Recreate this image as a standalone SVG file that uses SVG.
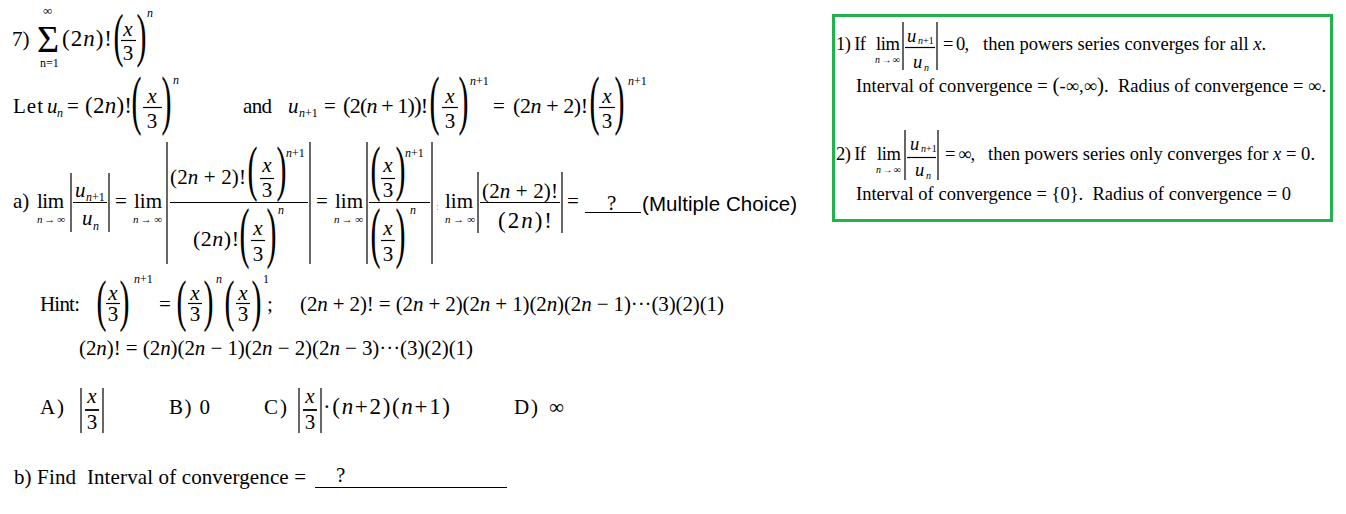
<svg xmlns="http://www.w3.org/2000/svg" width="1346" height="514" viewBox="0 0 1346 514">
<style>
text{font-family:"Liberation Serif","Times New Roman",serif;fill:#000;font-size:21px}
.i{font-style:italic}
.s{font-size:12px}
.xs{font-size:11px}
.bp{font-size:60px}
.f22{font-size:22px}
.f23{font-size:23px}
.c{text-anchor:middle}
.ln{stroke:#000;stroke-width:1.2;fill:none}
.sans{font-family:"Liberation Sans",Arial,sans-serif;font-size:20.5px}
.bx{font-size:18.5px}
.bs{font-size:10px}
.sig{font-size:38px}
.inf{font-size:13px}
.gr{fill:#999;font-size:10px}
</style>
<rect width="1346" height="514" fill="#fff"/>

<g id="problem">
<text x="12" y="46">7)</text>
<text x="37" y="52" class="sig" textLength="23">Σ</text>
<text x="43" y="15" class="inf">∞</text>
<text x="40" y="67" class="s">n=1</text>
<text x="62" y="46" class="f23" textLength="50">(2<tspan class="i">n</tspan>)!</text>
<text class="bp" transform="translate(115,66) scale(.5,1)" x="-2.9" y="-10.6">(</text>
<text class="bp" transform="translate(145,66) scale(.5,1)" x="-17.1" y="-10.6">)</text>
<text x="128" y="36" class="c i">x</text>
<line class="ln" x1="121" y1="40.5" x2="136" y2="40.5"/>
<text x="128" y="60" class="c">3</text>
<text x="147" y="17" class="s i">n</text>
</g>

<g id="let-line">
<text x="13" y="113" textLength="30">Let</text>
<text x="47" y="113" class="i">u</text>
<text x="57" y="117" class="s i">n</text>
<text x="67" y="113" textLength="14">=</text>
<text x="85" y="113" class="f23" textLength="47">(2<tspan class="i">n</tspan>)!</text>
<text class="bp" transform="translate(133,134) scale(.5,1.09)" x="-2.9" y="-10.6">(</text>
<text class="bp" transform="translate(170,134) scale(.5,1.09)" x="-17.1" y="-10.6">)</text>
<text x="152" y="103" class="c i">x</text>
<line class="ln" x1="143" y1="107.5" x2="162" y2="107.5"/>
<text x="152" y="128" class="c">3</text>
<text x="173" y="84" class="s i">n</text>

<text x="243" y="113" textLength="29">and</text>
<text x="288" y="113" class="i">u</text>
<text x="299" y="117" class="s"><tspan class="i">n</tspan>+1</text>
<text x="324" y="113" textLength="12">=</text>
<text x="343" y="113" class="f22" textLength="85"><tspan class="f23">(</tspan>2(<tspan class="i">n</tspan> + 1)<tspan class="f23">)</tspan>!</text>
<text class="bp" transform="translate(431,134) scale(.5,1.09)" x="-2.9" y="-10.6">(</text>
<text class="bp" transform="translate(467,134) scale(.5,1.09)" x="-17.1" y="-10.6">)</text>
<text x="450" y="103" class="c i">x</text>
<line class="ln" x1="442" y1="107.5" x2="458" y2="107.5"/>
<text x="450" y="128" class="c">3</text>
<text x="470" y="85" class="s"><tspan class="i">n</tspan>+1</text>
<text x="493" y="113" textLength="12">=</text>
<text x="513" y="113" class="f22" textLength="75">(2<tspan class="i">n</tspan> + 2)!</text>
<text class="bp" transform="translate(591,134) scale(.5,1.09)" x="-2.9" y="-10.6">(</text>
<text class="bp" transform="translate(623,134) scale(.5,1.09)" x="-17.1" y="-10.6">)</text>
<text x="607" y="103" class="c i">x</text>
<line class="ln" x1="599" y1="107.5" x2="615" y2="107.5"/>
<text x="607" y="128" class="c">3</text>
<text x="628" y="85" class="s"><tspan class="i">n</tspan>+1</text>
</g>

<g id="part-a">
<text x="13" y="208">a)</text>
<text x="37" y="208" textLength="27">lim</text>
<text x="37" y="223" class="xs i" textLength="28">n→∞</text>
<line class="ln" x1="71" y1="173" x2="71" y2="232"/>
<line class="ln" x1="109" y1="173" x2="109" y2="232"/>
<text x="75" y="197" class="i">u</text>
<text x="86" y="201" class="s"><tspan class="i">n</tspan>+1</text>
<line class="ln" x1="73" y1="202.5" x2="107" y2="202.5"/>
<text x="82" y="225" class="i">u</text>
<text x="93" y="230" class="s i">n</text>
<text x="115" y="208" textLength="16">=</text>
<text x="134" y="208" textLength="28">lim</text>
<text x="133" y="223" class="xs i" textLength="29">n→∞</text>

<line class="ln" x1="167" y1="142" x2="167" y2="264"/>
<line class="ln" x1="310" y1="142" x2="310" y2="264"/>
<text x="170" y="184" textLength="76">(2<tspan class="i">n</tspan> + 2)!</text>
<text class="bp" transform="translate(249,200) scale(.5,1.02)" x="-2.9" y="-10.6">(</text>
<text class="bp" transform="translate(285,200) scale(.5,1.02)" x="-17.1" y="-10.6">)</text>
<text x="267" y="172" class="c i">x</text>
<line class="ln" x1="260" y1="178.5" x2="274" y2="178.5"/>
<text x="267" y="197" class="c">3</text>
<text x="286" y="157" class="s"><tspan class="i">n</tspan>+1</text>
<line class="ln" x1="170" y1="202.5" x2="308" y2="202.5"/>
<text x="193" y="246" class="f22" textLength="46">(2<tspan class="i">n</tspan>)!</text>
<text class="bp" transform="translate(241,267) scale(.5,1.11)" x="-2.9" y="-10.6">(</text>
<text class="bp" transform="translate(275,267) scale(.5,1.11)" x="-17.1" y="-10.6">)</text>
<text x="258" y="235" class="c i">x</text>
<line class="ln" x1="251" y1="240.5" x2="265" y2="240.5"/>
<text x="258" y="261" class="c">3</text>
<text x="278" y="214" class="s i">n</text>

<text x="316" y="208" textLength="16">=</text>
<text x="335" y="208" textLength="28">lim</text>
<text x="334" y="223" class="xs i" textLength="29">n→∞</text>
<line class="ln" x1="367" y1="142" x2="367" y2="264"/>
<line class="ln" x1="432" y1="142" x2="432" y2="264"/>
<text class="bp" transform="translate(372,200) scale(.5,1.02)" x="-2.9" y="-10.6">(</text>
<text class="bp" transform="translate(404,200) scale(.5,1.02)" x="-17.1" y="-10.6">)</text>
<text x="388" y="172" class="c i">x</text>
<line class="ln" x1="381" y1="178.5" x2="395" y2="178.5"/>
<text x="388" y="197" class="c">3</text>
<text x="405" y="157" class="s"><tspan class="i">n</tspan>+1</text>
<line class="ln" x1="369" y1="202.5" x2="430" y2="202.5"/>
<text class="bp" transform="translate(372,267) scale(.5,1.11)" x="-2.9" y="-10.6">(</text>
<text class="bp" transform="translate(404,267) scale(.5,1.11)" x="-17.1" y="-10.6">)</text>
<text x="388" y="235" class="c i">x</text>
<line class="ln" x1="381" y1="240.5" x2="395" y2="240.5"/>
<text x="388" y="261" class="c">3</text>
<text x="410" y="214" class="s i">n</text>
<text x="436" y="210" class="gr">:</text>

<text x="445" y="208" textLength="28">lim</text>
<text x="445" y="223" class="xs i" textLength="30">n→∞</text>
<line class="ln" x1="478" y1="172" x2="478" y2="233"/>
<line class="ln" x1="562" y1="172" x2="562" y2="233"/>
<text x="482" y="198" textLength="76">(2<tspan class="i">n</tspan> + 2)!</text>
<line class="ln" x1="480" y1="202.5" x2="560" y2="202.5"/>
<text x="498" y="228" class="f23" textLength="54">(2<tspan class="i">n</tspan>)!</text>
<text x="567" y="208" textLength="13">=</text>
<line class="ln" x1="585" y1="212.5" x2="641" y2="212.5"/>
<text x="607" y="210">?</text>
<text x="642" y="211" class="sans" textLength="155">(Multiple Choice)</text>
</g>

<g id="hint">
<text x="40" y="311" textLength="40">Hint:</text>
<text class="bp" transform="translate(98,330) scale(.5,.94)" x="-2.9" y="-10.6">(</text>
<text class="bp" transform="translate(128,330) scale(.5,.94)" x="-17.1" y="-10.6">)</text>
<text x="113" y="300" class="c i">x</text>
<line class="ln" x1="106" y1="303.5" x2="120" y2="303.5"/>
<text x="113" y="321" class="c">3</text>
<text x="134" y="283" class="s"><tspan class="i">n</tspan>+1</text>
<text x="159" y="311" textLength="12">=</text>
<text class="bp" transform="translate(178,330) scale(.5,.94)" x="-2.9" y="-10.6">(</text>
<text class="bp" transform="translate(212,330) scale(.5,.94)" x="-17.1" y="-10.6">)</text>
<text x="195" y="300" class="c i">x</text>
<line class="ln" x1="188" y1="303.5" x2="202" y2="303.5"/>
<text x="195" y="321" class="c">3</text>
<text x="216" y="283" class="s i">n</text>
<text class="bp" transform="translate(226,330) scale(.5,.94)" x="-2.9" y="-10.6">(</text>
<text class="bp" transform="translate(260,330) scale(.5,.94)" x="-17.1" y="-10.6">)</text>
<text x="243" y="300" class="c i">x</text>
<line class="ln" x1="236" y1="303.5" x2="250" y2="303.5"/>
<text x="243" y="321" class="c">3</text>
<text x="263" y="283" class="s">1</text>
<text x="267" y="311">;</text>
<text x="300" y="311" textLength="424">(2<tspan class="i">n</tspan> + 2)! = (2<tspan class="i">n</tspan> + 2)(2<tspan class="i">n</tspan> + 1)(2<tspan class="i">n</tspan>)(2<tspan class="i">n</tspan> − 1)···(3)(2)(1)</text>
<text x="79" y="355" textLength="394">(2<tspan class="i">n</tspan>)! = (2<tspan class="i">n</tspan>)(2<tspan class="i">n</tspan> − 1)(2<tspan class="i">n</tspan> − 2)(2<tspan class="i">n</tspan> − 3)···(3)(2)(1)</text>
</g>

<g id="options">
<text x="40" y="414" textLength="24">A)</text>
<line class="ln" x1="81" y1="388" x2="81" y2="433"/>
<line class="ln" x1="103" y1="388" x2="103" y2="433"/>
<text x="92" y="403" class="c i">x</text>
<line class="ln" x1="85" y1="410" x2="99" y2="410" style="stroke-width:1.8"/>
<text x="92" y="429" class="c">3</text>
<text x="169" y="414" textLength="41">B) 0</text>
<text x="264" y="414" textLength="23">C)</text>
<line class="ln" x1="299" y1="388" x2="299" y2="433"/>
<line class="ln" x1="321" y1="388" x2="321" y2="433"/>
<text x="310" y="403" class="c i">x</text>
<line class="ln" x1="303" y1="410" x2="317" y2="410" style="stroke-width:1.8"/>
<text x="310" y="429" class="c">3</text>
<text x="323" y="414" class="f23" textLength="127">·(<tspan class="i">n</tspan>+2)(<tspan class="i">n</tspan>+1)</text>
<text x="514" y="414" textLength="24">D)</text>
<text x="549" y="414">∞</text>
</g>

<g id="part-b">
<text x="14" y="484" textLength="292">b) Find&#160; Interval of convergence =</text>
<line class="ln" x1="315" y1="487.5" x2="507" y2="487.5"/>
<text x="336" y="482">?</text>
</g>

<g id="rules-box">
<rect x="833.5" y="15.5" width="498" height="205" fill="none" stroke="#22b14c" stroke-width="3"/>
<text x="836" y="50" class="bx" textLength="30">1) If</text>
<text x="876" y="50" class="bx" textLength="24">lim</text>
<text x="875" y="63" class="bs i" textLength="25">n→∞</text>
<line class="ln" x1="903" y1="22" x2="903" y2="70"/>
<line class="ln" x1="937" y1="22" x2="937" y2="70"/>
<text x="907" y="42" class="bx i">u</text>
<text x="918" y="44" class="bs"><tspan class="i">n</tspan>+1</text>
<line class="ln" x1="905" y1="47.5" x2="935" y2="47.5"/>
<text x="913" y="68" class="bx i">u</text>
<text x="924" y="71" class="bs i">n</text>
<text x="943" y="50" class="bx" textLength="26">= 0,</text>
<text x="983" y="50" class="bx" textLength="283">then powers series converges for all <tspan class="i">x</tspan>.</text>
<text x="856" y="92" class="bx" textLength="470">Interval of convergence = <tspan style="font-size:21px">(</tspan>-∞,∞<tspan style="font-size:21px">)</tspan>.&#160; Radius of convergence = ∞.</text>

<text x="836" y="160" class="bx" textLength="30">2) If</text>
<text x="877" y="160" class="bx" textLength="24">lim</text>
<text x="876" y="173" class="bs i" textLength="25">n→∞</text>
<line class="ln" x1="905" y1="130" x2="905" y2="180"/>
<line class="ln" x1="938" y1="130" x2="938" y2="180"/>
<text x="910" y="150" class="bx i">u</text>
<text x="921" y="152" class="bs"><tspan class="i">n</tspan>+1</text>
<line class="ln" x1="907" y1="157.5" x2="936" y2="157.5"/>
<text x="915" y="176" class="bx i">u</text>
<text x="926" y="179" class="bs i">n</text>
<text x="945" y="160" class="bx" textLength="30">= ∞,</text>
<text x="988" y="160" class="bx" textLength="327">then powers series only converges for <tspan class="i">x</tspan> = 0.</text>
<text x="856" y="200" class="bx" textLength="435">Interval of convergence = {0}.&#160; Radius of convergence = 0</text>
</g>
</svg>
